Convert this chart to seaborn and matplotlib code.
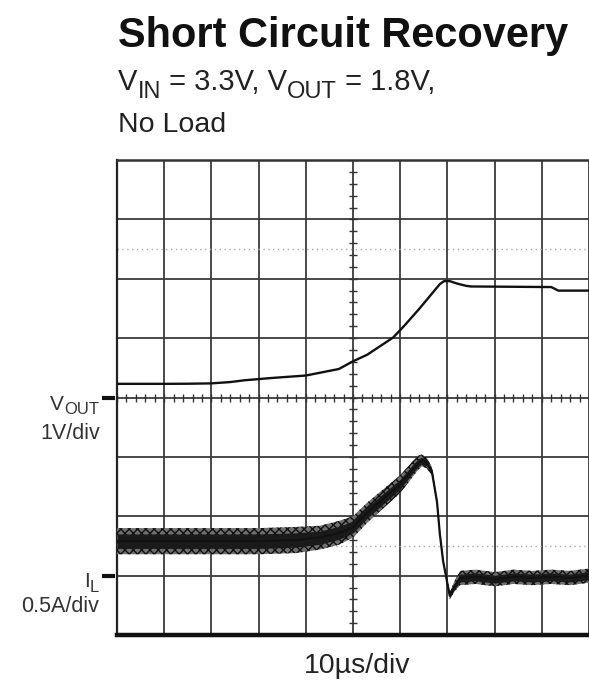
import numpy as np
import pandas as pd
import matplotlib
matplotlib.use("Agg")
import matplotlib.pyplot as plt
import matplotlib.transforms as mtransforms
import seaborn as sns

# ---------------- data ----------------
vout_time_us = [0, 10, 15, 20, 24, 27, 33, 40, 47, 50, 53, 58.5, 61, 64, 68.4,
                69.3, 70.5, 72, 74, 75, 92, 93.5, 100]
vout_volts = [0.23, 0.23, 0.232, 0.238, 0.26, 0.29, 0.33, 0.37, 0.48, 0.61,
              0.72, 1.01, 1.22, 1.49, 1.91, 1.96, 1.96, 1.92, 1.88, 1.87,
              1.86, 1.80, 1.80]

il_time_us = [0, 10, 20, 30, 38, 43, 47, 50, 53, 56.5, 60, 62.7, 63.8, 64.6,
              65.6, 66.7, 67.8, 68.4, 69.1, 70.5, 71.5, 72.7, 76, 80, 84, 88,
              92, 96, 100]
il_amps = [0.29, 0.29, 0.29, 0.29, 0.30, 0.32, 0.36, 0.41, 0.53, 0.65, 0.77,
           0.90, 0.95, 0.97, 0.95, 0.88, 0.62, 0.35, 0.12, -0.17, -0.09,
           -0.02, -0.01, -0.03, -0.01, -0.02, -0.01, -0.02, 0.00]
il_spread_amps = [0.11, 0.11, 0.11, 0.11, 0.11, 0.10, 0.10, 0.09, 0.085,
                  0.08, 0.075, 0.065, 0.06, 0.05, 0.045, 0.035, 0.015, 0.012,
                  0.012, 0.03, 0.045, 0.06, 0.06, 0.06, 0.06, 0.06, 0.06,
                  0.06, 0.06]

# scope settings
TIME_PER_DIV = 10      # us/div
VOUT_PER_DIV = 1.0     # V/div
IL_PER_DIV = 0.5       # A/div
VOUT_ZERO_DIV = 4      # ground marker position (divisions from bottom)
IL_ZERO_DIV = 1

# ---------------- figure ----------------
sns.set_theme(style="white")
plt.rcParams["font.family"] = ["Liberation Sans", "DejaVu Sans"]
plt.rcParams["hatch.linewidth"] = 1.0

W, H = 589, 681
fig = plt.figure(figsize=(W / 100, H / 100), dpi=100)
fig.patch.set_facecolor("white")
ax = fig.add_axes([117 / W, 1 - 635 / H, (589 - 117) / W, (635 - 160) / H])
ax.set_facecolor("white")

vdf = pd.DataFrame({"t": vout_time_us,
                    "y": VOUT_ZERO_DIV + np.array(vout_volts) / VOUT_PER_DIV})
idf = pd.DataFrame({"t": il_time_us,
                    "y": IL_ZERO_DIV + np.array(il_amps) / IL_PER_DIV,
                    "s": np.array(il_spread_amps) / IL_PER_DIV})

ax.set_xlim(0, 10 * TIME_PER_DIV)
ax.set_ylim(0, 8)

# graticule
ax.set_xticks(np.arange(0, 10 * TIME_PER_DIV + 1, TIME_PER_DIV))
ax.set_yticks(np.arange(0, 9, 1))
ax.grid(True, color="#3a3a3a", lw=1.3)
ax.tick_params(length=0, labelbottom=False, labelleft=False)
ax.set_axisbelow(True)

ax.spines["right"].set_visible(False)
ax.spines["left"].set_linewidth(1.6)
ax.spines["left"].set_color("#222")
ax.spines["top"].set_linewidth(1.8)
ax.spines["top"].set_color("#333")
ax.spines["bottom"].set_linewidth(3.2)
ax.spines["bottom"].set_color("#111")

# faint dotted reference lines
for yy in (6.5, 1.5):
    ax.axhline(yy, color="#aaaaaa", ls=(0, (1, 2.5)), lw=1.0, zorder=1)

# centre minor ticks
cy = np.arange(0, 8.001, 0.2)
ax.plot(np.full(cy.shape, 5 * TIME_PER_DIV), cy, ls="none", marker="_",
        ms=6, mew=1.0, color="#333", zorder=2)
cx = np.arange(0, 10 * TIME_PER_DIV + 0.01, TIME_PER_DIV / 5)
ax.plot(cx, np.full(cx.shape, VOUT_ZERO_DIV), ls="none", marker="|",
        ms=6, mew=1.0, color="#333", zorder=2)

# IL trace: noisy band (envelope) + centre line
ax.fill_between(idf["t"], idf["y"] - idf["s"], idf["y"] + idf["s"],
                facecolor="#6e6e6e", edgecolor="#111111", hatch="xxxx",
                lw=0, zorder=3)
ax.fill_between(idf["t"], idf["y"] - idf["s"] * 0.55, idf["y"] + idf["s"] * 0.55,
                color="#1a1a1a", lw=0, zorder=4)
sns.lineplot(data=idf, x="t", y="y", ax=ax, color="#111", lw=1.6, zorder=5,
             estimator=None, sort=False)
# VOUT trace
sns.lineplot(data=vdf, x="t", y="y", ax=ax, color="#111", lw=1.7, zorder=5,
             estimator=None, sort=False)
ax.set_xlabel("")
ax.set_ylabel("")

# channel markers on the left
trans = mtransforms.blended_transform_factory(ax.transAxes, ax.transData)
for yy in (VOUT_ZERO_DIV, IL_ZERO_DIV):
    ax.plot([-0.032, -0.004], [yy, yy], transform=trans, clip_on=False,
            color="#111", lw=3, solid_capstyle="butt")

# texts
def fx(px):
    return px / W

def fy(py):
    return 1 - py / H

renderer = fig.canvas.get_renderer()

def rich(x_px, base_px, pieces, color="#222", align="left"):
    """pieces: list of (text, fontsize, baseline drop in px)."""
    objs = []
    x = x_px
    for s, size, dy in pieces:
        t = fig.text(fx(x), fy(base_px + dy), s, fontsize=size,
                     va="baseline", ha="left", color=color)
        w = t.get_window_extent(renderer).width
        objs.append(t)
        x += w
    if align == "right":
        shift = x - x_px
        for t in objs:
            px, py = t.get_position()
            t.set_position((px - shift / W, py))

fig.text(fx(118), fy(47), "Short Circuit Recovery", fontsize=29.9,
         fontweight="bold", va="baseline", ha="left", color="#111")
rich(118, 90, [("V", 21, 0), ("IN", 17, 8), (" = 3.3V, V", 21, 0),
               ("OUT", 17, 8), (" = 1.8V,", 21, 0)])
fig.text(fx(118), fy(132), "No Load", fontsize=20.5, va="baseline",
         ha="left", color="#222")

rich(99, 410, [("V", 15, 0), ("OUT", 12, 4)], color="#333", align="right")
fig.text(fx(100), fy(439), "1V/div", fontsize=15.5, va="baseline",
         ha="right", color="#333")
rich(99, 587, [("I", 15, 0), ("L", 12, 5)], color="#333", align="right")
fig.text(fx(99), fy(612), "0.5A/div", fontsize=15.5, va="baseline",
         ha="right", color="#333")
fig.text(fx(357), fy(673), "10µs/div", fontsize=20.5, va="baseline",
         ha="center", color="#222")

fig.savefig("out.png", dpi=100, facecolor="white")
